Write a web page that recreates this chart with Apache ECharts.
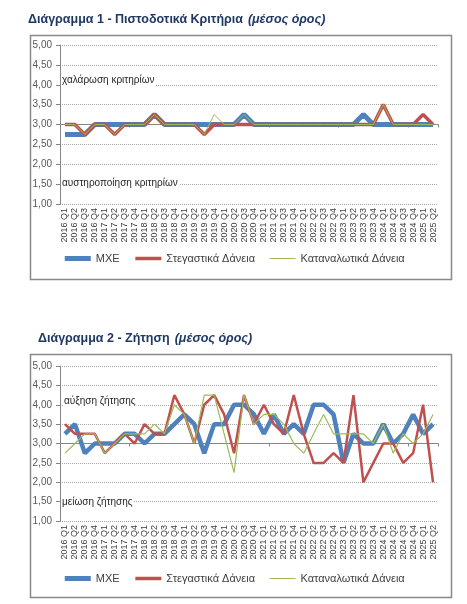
<!DOCTYPE html>
<html>
<head>
<meta charset="utf-8">
<script src="https://cdn.jsdelivr.net/npm/echarts@6/dist/echarts.min.js"></script>
<style>
  html, body { margin: 0; padding: 0; background: #fff; }
  #main { width: 467px; height: 604px; }
</style>
</head>
<body>
<div id="main"></div>
<script>
// categories
var quarters = [
  "2016 Q1", "2016 Q2", "2016 Q3", "2016 Q4", "2017 Q1", "2017 Q2", "2017 Q3", "2017 Q4",
  "2018 Q1", "2018 Q2", "2018 Q3", "2018 Q4", "2019 Q1", "2019 Q2", "2019 Q3", "2019 Q4",
  "2020 Q1", "2020 Q2", "2020 Q3", "2020 Q4", "2021 Q1", "2021 Q2", "2021 Q3", "2021 Q4",
  "2022 Q1", "2022 Q2", "2022 Q3", "2022 Q4", "2023 Q1", "2023 Q2", "2023 Q3", "2023 Q4",
  "2024 Q1", "2024 Q2", "2024 Q3", "2024 Q4", "2025 Q1", "2025 Q2"
];
var seriesNames = ["ΜΧΕ", "Στεγαστικά Δάνεια", "Καταναλωτικά Δάνεια"];

// Διάγραμμα 1 - Πιστοδοτικά Κριτήρια
var criteriaSme = [
  2.75, 2.75, 2.75, 3, 3, 3, 3, 3, 3, 3.25, 3, 3, 3, 3, 3, 3, 3, 3, 3.25,
  3, 3, 3, 3, 3, 3, 3, 3, 3, 3, 3, 3.25, 3, 3, 3, 3, 3, 3, 3
];
var criteriaHousing = [
  3, 3, 2.75, 3, 3, 2.75, 3, 3, 3, 3.25, 3, 3, 3, 3, 2.75, 3, 3, 3, 3,
  3, 3, 3, 3, 3, 3, 3, 3, 3, 3, 3, 3, 3, 3.5, 3, 3, 3, 3.25, 3
];
var criteriaConsumer = [
  3, 3, 2.75, 3, 3, 2.75, 3, 3, 3, 3.25, 3, 3, 3, 3, 2.75, 3.25, 3, 3, 3.25,
  3, 3, 3, 3, 3, 3, 3, 3, 3, 3, 3, 3, 3, 3.5, 3, 3, 3, 3, 3
];

// Διάγραμμα 2 - Ζήτηση
var demandSme = [
  3.25, 3.5, 2.75, 3, 3, 3, 3.25, 3.25, 3, 3.25, 3.25, 3.5, 3.75, 3.5, 2.75, 3.5, 3.5, 4, 4,
  3.75, 3.25, 3.75, 3.25, 3.5, 3.25, 4, 4, 3.75, 2.5, 3.25, 3, 3, 3.5, 3, 3.25, 3.75, 3.25, 3.5
];
var demandHousing = [
  3.5, 3.25, 3.25, 3.25, 2.75, 3, 3.25, 3, 3.5, 3.25, 3.25, 4.25, 3.75, 3, 4, 4.25, 3.75, 2.75, 4.25,
  3.5, 4, 3.5, 3.25, 4.25, 3.25, 2.5, 2.5, 2.75, 2.5, 4.25, 2, 2.5, 3, 3, 2.5, 2.75, 4, 2
];
var demandConsumer = [
  2.75, 3, 3.25, 3.25, 2.75, 3, 3.25, 3.25, 3.25, 3.5, 3.25, 4, 3.75, 3, 4.25, 4.25, 3.25, 2.25, 4.25,
  3.5, 3.75, 3.75, 3.5, 3, 2.75, 3.25, 3.75, 3.25, 3.25, 3.25, 3.25, 3, 3.5, 2.75, 3.25, 3, 3.25, 3.75
];

var colors = ["#4F81BD", "#C0504D", "#9BBB59"];
var FONT = "Liberation Sans, Arial, sans-serif";

var chart = echarts.init(document.getElementById("main"));

function valueAxis(gridIndex) {
  return {
    gridIndex: gridIndex,
    type: "value",
    min: 1,
    max: 5,
    interval: 0.5,
    axisLine: { show: true, lineStyle: { color: "#868686", width: 1 } },
    axisTick: { show: true, length: 4, lineStyle: { color: "#868686" } },
    splitLine: { show: true, lineStyle: { color: "#A6A6A6", type: "dotted", width: 1 } },
    axisLabel: {
      margin: 8,
      fontSize: 10,
      fontFamily: FONT,
      color: "#595959",
      formatter: function (v) {
        return v.toFixed(2).replace(".", ",");
      }
    }
  };
}

function labelAxis(gridIndex) {
  return {
    gridIndex: gridIndex,
    type: "category",
    data: quarters,
    boundaryGap: true,
    axisLine: { show: false },
    axisTick: { show: false },
    axisLabel: {
      interval: 0,
      rotate: 90,
      margin: 4,
      fontSize: 9,
      fontFamily: FONT,
      color: "#404040"
    }
  };
}

// the horizontal axis crosses at 3,00 (middle of the 1..5 range)
function crossAxis(gridIndex, halfHeight) {
  return {
    gridIndex: gridIndex,
    type: "category",
    data: quarters,
    position: "bottom",
    offset: -halfHeight,
    boundaryGap: true,
    axisLine: { show: true, lineStyle: { color: "#868686", width: 1 } },
    axisTick: { show: true, length: 3, lineStyle: { color: "#868686" } },
    axisLabel: { show: false }
  };
}

function makeSeries(xIndex, yIndex, datas, widths) {
  var out = [];
  for (var k = 0; k < datas.length; k++) {
    out.push({
      name: seriesNames[k],
      type: "line",
      xAxisIndex: xIndex,
      yAxisIndex: yIndex,
      symbol: "none",
      showSymbol: false,
      animation: false,
      lineStyle: { color: colors[k], width: widths[k] },
      itemStyle: { color: colors[k] },
      data: datas[k]
    });
  }
  return out;
}

function legendAt(top) {
  return {
    top: top,
    left: "center",
    itemWidth: 26,
    itemHeight: 10,
    itemGap: 14,
    data: seriesNames,
    itemStyle: { color: "transparent", borderWidth: 0, opacity: 0 },
    lineStyle: { width: "inherit" },
    textStyle: { fontSize: 11, fontFamily: FONT, color: "#404040" }
  };
}

function note(text, x, y) {
  return {
    type: "text",
    left: x,
    top: y,
    z: 50,
    style: {
      text: text,
      fill: "#262626",
      font: "10px " + FONT,
      backgroundColor: "#fff",
      padding: [1, 1, 1, 0]
    }
  };
}

var titleRich = {
  b: { fontSize: 12.5, fontWeight: "bold", color: "#1F3864", fontFamily: FONT },
  n: { fontSize: 12.5, color: "#1F3864", fontFamily: FONT },
  i: { fontSize: 12.5, fontStyle: "italic", color: "#1F3864", fontFamily: FONT }
};

chart.setOption({
  backgroundColor: "#fff",
  animation: false,
  title: [
    {
      left: 28, top: 11, padding: 0,
      text: "{b|Διάγραμμα 1}{n| - }{b|Πιστοδοτικά Κριτήρια} {i|(μέσος όρος)}",
      textStyle: { rich: titleRich }
    },
    {
      left: 38, top: 330, padding: 0,
      text: "{b|Διάγραμμα 2}{n| - }{b|Ζήτηση} {i|(μέσος όρος)}",
      textStyle: { rich: titleRich }
    }
  ],
  legend: [legendAt(248), legendAt(568)],
  grid: [
    { left: 60, top: 45, width: 378, height: 159 },
    { left: 60, top: 366, width: 378, height: 155 }
  ],
  xAxis: [labelAxis(0), crossAxis(0, 79.5), labelAxis(1), crossAxis(1, 77.5)],
  yAxis: [valueAxis(0), valueAxis(1)],
  series: []
    .concat(makeSeries(0, 0, [criteriaSme, criteriaHousing, criteriaConsumer], [5, 3.5, 1]))
    .concat(makeSeries(2, 1, [demandSme, demandHousing, demandConsumer], [4.5, 2.5, 1.2])),
  graphic: [
    {
      type: "rect", left: 28, top: 33, z: -1,
      shape: { width: 421, height: 244 },
      style: { fill: "none", stroke: "#898989", lineWidth: 1.5 }
    },
    {
      type: "rect", left: 28, top: 352, z: -1,
      shape: { width: 421, height: 243 },
      style: { fill: "none", stroke: "#898989", lineWidth: 1.5 }
    },
    note("χαλάρωση κριτηρίων", 62, 74),
    note("αυστηροποίηση κριτηρίων", 62, 177),
    note("αύξηση ζήτησης", 64, 395),
    note("μείωση ζήτησης", 62, 496)
  ]
});
</script>
</body>
</html>
